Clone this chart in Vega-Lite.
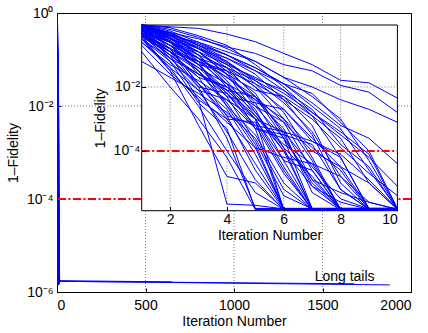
{
"$schema": "https://vega.github.io/schema/vega-lite/v6.json",
"autosize": "none",
"width": 354,
"height": 279,
"padding": {"left": 57, "top": 13, "right": 17, "bottom": 41},
"config": {
  "view": {"stroke": "#000", "strokeWidth": 1},
  "axis": {"labelFont": "Liberation Sans", "titleFont": "Liberation Sans", "labelFontSize": 14, "titleFontSize": 14, "titleFontWeight": "normal", "labelColor": "#000", "titleColor": "#000", "tickColor": "#000", "domain": false, "grid": false, "tickSize": -4, "labelOverlap": false},
  "text": {"font": "Liberation Sans"}
},
"datasets": {
"runs": [
{"r":"A1","i":1,"f":0.5},{"r":"A1","i":2,"f":0.1},{"r":"A1","i":3,"f":4e-3},{"r":"A1","i":4,"f":2.2e-6},{"r":"A1","i":5,"f":2e-6},{"r":"A1","i":6,"f":1.55e-6},{"r":"A1","i":7,"f":1.55e-6},{"r":"A1","i":8,"f":1.55e-6},{"r":"A1","i":9,"f":1.55e-6},{"r":"A1","i":10,"f":1.55e-6},
{"r":"A2","i":1,"f":0.4},{"r":"A2","i":2,"f":0.032},{"r":"A2","i":3,"f":6.3e-4},{"r":"A2","i":4,"f":1.6e-5},{"r":"A2","i":5,"f":1e-5},{"r":"A2","i":6,"f":1.5e-6},{"r":"A2","i":7,"f":1.5e-6},{"r":"A2","i":8,"f":1.5e-6},{"r":"A2","i":9,"f":1.5e-6},{"r":"A2","i":10,"f":1.5e-6},
{"r":"A3","i":1,"f":0.63},{"r":"A3","i":2,"f":0.126},{"r":"A3","i":3,"f":0.01},{"r":"A3","i":4,"f":2.5e-4},{"r":"A3","i":5,"f":1.6e-6},{"r":"A3","i":6,"f":1.6e-6},{"r":"A3","i":7,"f":1.6e-6},{"r":"A3","i":8,"f":1.6e-6},{"r":"A3","i":9,"f":1.6e-6},{"r":"A3","i":10,"f":1.6e-6},
{"r":"A4","i":1,"f":0.126},{"r":"A4","i":2,"f":0.01},{"r":"A4","i":3,"f":1e-3},{"r":"A4","i":4,"f":6.3e-5},{"r":"A4","i":5,"f":1.45e-6},{"r":"A4","i":6,"f":1.45e-6},{"r":"A4","i":7,"f":1.45e-6},{"r":"A4","i":8,"f":1.45e-6},{"r":"A4","i":9,"f":1.45e-6},{"r":"A4","i":10,"f":1.45e-6},
{"r":"A5","i":1,"f":0.5},{"r":"A5","i":2,"f":0.063},{"r":"A5","i":3,"f":3.2e-3},{"r":"A5","i":4,"f":5e-4},{"r":"A5","i":5,"f":1.5e-6},{"r":"A5","i":6,"f":1.5e-6},{"r":"A5","i":7,"f":1.5e-6},{"r":"A5","i":8,"f":1.5e-6},{"r":"A5","i":9,"f":1.5e-6},{"r":"A5","i":10,"f":1.5e-6},
{"r":"A6","i":1,"f":0.79},{"r":"A6","i":2,"f":0.158},{"r":"A6","i":3,"f":0.0126},{"r":"A6","i":4,"f":1e-3},{"r":"A6","i":5,"f":4e-5},{"r":"A6","i":6,"f":1.6e-6},{"r":"A6","i":7,"f":1.6e-6},{"r":"A6","i":8,"f":1.6e-6},{"r":"A6","i":9,"f":1.6e-6},{"r":"A6","i":10,"f":1.6e-6},
{"r":"A7","i":1,"f":0.32},{"r":"A7","i":2,"f":0.04},{"r":"A7","i":3,"f":2.5e-3},{"r":"A7","i":4,"f":1e-4},{"r":"A7","i":5,"f":5e-6},{"r":"A7","i":6,"f":1.5e-6},{"r":"A7","i":7,"f":1.5e-6},{"r":"A7","i":8,"f":1.5e-6},{"r":"A7","i":9,"f":1.5e-6},{"r":"A7","i":10,"f":1.5e-6},
{"r":"B1","i":1,"f":0.63},{"r":"B1","i":2,"f":0.2},{"r":"B1","i":3,"f":0.032},{"r":"B1","i":4,"f":3.2e-3},{"r":"B1","i":5,"f":1.6e-4},{"r":"B1","i":6,"f":1.55e-6},{"r":"B1","i":7,"f":1.55e-6},{"r":"B1","i":8,"f":1.55e-6},{"r":"B1","i":9,"f":1.55e-6},{"r":"B1","i":10,"f":1.55e-6},
{"r":"B2","i":1,"f":0.79},{"r":"B2","i":2,"f":0.25},{"r":"B2","i":3,"f":0.05},{"r":"B2","i":4,"f":6.3e-3},{"r":"B2","i":5,"f":5e-4},{"r":"B2","i":6,"f":1.45e-6},{"r":"B2","i":7,"f":1.45e-6},{"r":"B2","i":8,"f":1.45e-6},{"r":"B2","i":9,"f":1.45e-6},{"r":"B2","i":10,"f":1.45e-6},
{"r":"B3","i":1,"f":0.4},{"r":"B3","i":2,"f":0.079},{"r":"B3","i":3,"f":0.0126},{"r":"B3","i":4,"f":2e-3},{"r":"B3","i":5,"f":7.9e-5},{"r":"B3","i":6,"f":1.6e-6},{"r":"B3","i":7,"f":1.6e-6},{"r":"B3","i":8,"f":1.6e-6},{"r":"B3","i":9,"f":1.6e-6},{"r":"B3","i":10,"f":1.6e-6},
{"r":"B4","i":1,"f":0.5},{"r":"B4","i":2,"f":0.126},{"r":"B4","i":3,"f":0.02},{"r":"B4","i":4,"f":1.26e-3},{"r":"B4","i":5,"f":2.5e-5},{"r":"B4","i":6,"f":1.5e-6},{"r":"B4","i":7,"f":1.5e-6},{"r":"B4","i":8,"f":1.5e-6},{"r":"B4","i":9,"f":1.5e-6},{"r":"B4","i":10,"f":1.5e-6},
{"r":"B5","i":1,"f":0.2},{"r":"B5","i":2,"f":0.025},{"r":"B5","i":3,"f":5e-3},{"r":"B5","i":4,"f":7.9e-4},{"r":"B5","i":5,"f":1.26e-4},{"r":"B5","i":6,"f":1.55e-6},{"r":"B5","i":7,"f":1.55e-6},{"r":"B5","i":8,"f":1.55e-6},{"r":"B5","i":9,"f":1.55e-6},{"r":"B5","i":10,"f":1.55e-6},
{"r":"B6","i":1,"f":0.71},{"r":"B6","i":2,"f":0.32},{"r":"B6","i":3,"f":0.079},{"r":"B6","i":4,"f":0.01},{"r":"B6","i":5,"f":1e-3},{"r":"B6","i":6,"f":1.5e-6},{"r":"B6","i":7,"f":1.5e-6},{"r":"B6","i":8,"f":1.5e-6},{"r":"B6","i":9,"f":1.5e-6},{"r":"B6","i":10,"f":1.5e-6},
{"r":"B7","i":1,"f":0.32},{"r":"B7","i":2,"f":0.063},{"r":"B7","i":3,"f":7.9e-3},{"r":"B7","i":4,"f":4e-4},{"r":"B7","i":5,"f":1.26e-5},{"r":"B7","i":6,"f":1.45e-6},{"r":"B7","i":7,"f":1.45e-6},{"r":"B7","i":8,"f":1.45e-6},{"r":"B7","i":9,"f":1.45e-6},{"r":"B7","i":10,"f":1.45e-6},
{"r":"C1","i":1,"f":0.89},{"r":"C1","i":2,"f":0.4},{"r":"C1","i":3,"f":0.126},{"r":"C1","i":4,"f":0.025},{"r":"C1","i":5,"f":3.2e-3},{"r":"C1","i":6,"f":1.26e-4},{"r":"C1","i":7,"f":1.5e-6},{"r":"C1","i":8,"f":1.5e-6},{"r":"C1","i":9,"f":1.5e-6},{"r":"C1","i":10,"f":1.5e-6},
{"r":"C2","i":1,"f":0.63},{"r":"C2","i":2,"f":0.25},{"r":"C2","i":3,"f":0.063},{"r":"C2","i":4,"f":0.0126},{"r":"C2","i":5,"f":2e-3},{"r":"C2","i":6,"f":5e-5},{"r":"C2","i":7,"f":1.6e-6},{"r":"C2","i":8,"f":1.6e-6},{"r":"C2","i":9,"f":1.6e-6},{"r":"C2","i":10,"f":1.6e-6},
{"r":"C3","i":1,"f":0.5},{"r":"C3","i":2,"f":0.158},{"r":"C3","i":3,"f":0.04},{"r":"C3","i":4,"f":6.3e-3},{"r":"C3","i":5,"f":6.3e-4},{"r":"C3","i":6,"f":2e-5},{"r":"C3","i":7,"f":1.5e-6},{"r":"C3","i":8,"f":1.5e-6},{"r":"C3","i":9,"f":1.5e-6},{"r":"C3","i":10,"f":1.5e-6},
{"r":"C4","i":1,"f":0.79},{"r":"C4","i":2,"f":0.32},{"r":"C4","i":3,"f":0.1},{"r":"C4","i":4,"f":0.0158},{"r":"C4","i":5,"f":1.26e-3},{"r":"C4","i":6,"f":1e-4},{"r":"C4","i":7,"f":1.55e-6},{"r":"C4","i":8,"f":1.55e-6},{"r":"C4","i":9,"f":1.55e-6},{"r":"C4","i":10,"f":1.55e-6},
{"r":"C5","i":1,"f":0.25},{"r":"C5","i":2,"f":0.05},{"r":"C5","i":3,"f":0.0158},{"r":"C5","i":4,"f":4e-3},{"r":"C5","i":5,"f":1e-3},{"r":"C5","i":6,"f":3.2e-5},{"r":"C5","i":7,"f":1.45e-6},{"r":"C5","i":8,"f":1.45e-6},{"r":"C5","i":9,"f":1.45e-6},{"r":"C5","i":10,"f":1.45e-6},
{"r":"C6","i":1,"f":0.56},{"r":"C6","i":2,"f":0.2},{"r":"C6","i":3,"f":0.032},{"r":"C6","i":4,"f":2.5e-3},{"r":"C6","i":5,"f":3.2e-4},{"r":"C6","i":6,"f":1e-5},{"r":"C6","i":7,"f":1.5e-6},{"r":"C6","i":8,"f":1.5e-6},{"r":"C6","i":9,"f":1.5e-6},{"r":"C6","i":10,"f":1.5e-6},
{"r":"C7","i":1,"f":0.4},{"r":"C7","i":2,"f":0.1},{"r":"C7","i":3,"f":0.025},{"r":"C7","i":4,"f":0.01},{"r":"C7","i":5,"f":2.5e-3},{"r":"C7","i":6,"f":2.5e-4},{"r":"C7","i":7,"f":1.6e-6},{"r":"C7","i":8,"f":1.6e-6},{"r":"C7","i":9,"f":1.6e-6},{"r":"C7","i":10,"f":1.6e-6},
{"r":"C8","i":1,"f":0.063},{"r":"C8","i":2,"f":0.02},{"r":"C8","i":3,"f":6.3e-3},{"r":"C8","i":4,"f":1.6e-3},{"r":"C8","i":5,"f":2.5e-4},{"r":"C8","i":6,"f":6.3e-6},{"r":"C8","i":7,"f":1.5e-6},{"r":"C8","i":8,"f":1.5e-6},{"r":"C8","i":9,"f":1.5e-6},{"r":"C8","i":10,"f":1.5e-6},
{"r":"C9","i":1,"f":0.71},{"r":"C9","i":2,"f":0.28},{"r":"C9","i":3,"f":0.05},{"r":"C9","i":4,"f":5e-3},{"r":"C9","i":5,"f":2e-4},{"r":"C9","i":6,"f":4e-6},{"r":"C9","i":7,"f":1.55e-6},{"r":"C9","i":8,"f":1.55e-6},{"r":"C9","i":9,"f":1.55e-6},{"r":"C9","i":10,"f":1.55e-6},
{"r":"D1","i":1,"f":0.89},{"r":"D1","i":2,"f":0.5},{"r":"D1","i":3,"f":0.2},{"r":"D1","i":4,"f":0.063},{"r":"D1","i":5,"f":0.0126},{"r":"D1","i":6,"f":1.6e-3},{"r":"D1","i":7,"f":6.3e-5},{"r":"D1","i":8,"f":1.5e-6},{"r":"D1","i":9,"f":1.5e-6},{"r":"D1","i":10,"f":1.5e-6},
{"r":"D2","i":1,"f":0.63},{"r":"D2","i":2,"f":0.25},{"r":"D2","i":3,"f":0.079},{"r":"D2","i":4,"f":0.02},{"r":"D2","i":5,"f":5e-3},{"r":"D2","i":6,"f":7.9e-4},{"r":"D2","i":7,"f":2.5e-5},{"r":"D2","i":8,"f":1.45e-6},{"r":"D2","i":9,"f":1.45e-6},{"r":"D2","i":10,"f":1.45e-6},
{"r":"D3","i":1,"f":0.5},{"r":"D3","i":2,"f":0.126},{"r":"D3","i":3,"f":0.04},{"r":"D3","i":4,"f":0.0126},{"r":"D3","i":5,"f":4e-3},{"r":"D3","i":6,"f":5e-4},{"r":"D3","i":7,"f":1.26e-5},{"r":"D3","i":8,"f":1.6e-6},{"r":"D3","i":9,"f":1.6e-6},{"r":"D3","i":10,"f":1.6e-6},
{"r":"D4","i":1,"f":0.79},{"r":"D4","i":2,"f":0.355},{"r":"D4","i":3,"f":0.126},{"r":"D4","i":4,"f":0.032},{"r":"D4","i":5,"f":6.3e-3},{"r":"D4","i":6,"f":3.2e-4},{"r":"D4","i":7,"f":7.9e-6},{"r":"D4","i":8,"f":1.5e-6},{"r":"D4","i":9,"f":1.5e-6},{"r":"D4","i":10,"f":1.5e-6},
{"r":"D5","i":1,"f":0.32},{"r":"D5","i":2,"f":0.079},{"r":"D5","i":3,"f":0.025},{"r":"D5","i":4,"f":7.9e-3},{"r":"D5","i":5,"f":1.26e-3},{"r":"D5","i":6,"f":1.6e-4},{"r":"D5","i":7,"f":4e-5},{"r":"D5","i":8,"f":1.55e-6},{"r":"D5","i":9,"f":1.55e-6},{"r":"D5","i":10,"f":1.55e-6},
{"r":"D6","i":1,"f":0.71},{"r":"D6","i":2,"f":0.4},{"r":"D6","i":3,"f":0.158},{"r":"D6","i":4,"f":0.05},{"r":"D6","i":5,"f":0.01},{"r":"D6","i":6,"f":1e-3},{"r":"D6","i":7,"f":5e-5},{"r":"D6","i":8,"f":1.5e-6},{"r":"D6","i":9,"f":1.5e-6},{"r":"D6","i":10,"f":1.5e-6},
{"r":"D7","i":1,"f":0.45},{"r":"D7","i":2,"f":0.158},{"r":"D7","i":3,"f":0.05},{"r":"D7","i":4,"f":7.9e-3},{"r":"D7","i":5,"f":1e-3},{"r":"D7","i":6,"f":4e-4},{"r":"D7","i":7,"f":5e-6},{"r":"D7","i":8,"f":1.45e-6},{"r":"D7","i":9,"f":1.45e-6},{"r":"D7","i":10,"f":1.45e-6},
{"r":"E1","i":1,"f":0.89},{"r":"E1","i":2,"f":0.56},{"r":"E1","i":3,"f":0.25},{"r":"E1","i":4,"f":0.1},{"r":"E1","i":5,"f":0.032},{"r":"E1","i":6,"f":7.9e-3},{"r":"E1","i":7,"f":1.26e-3},{"r":"E1","i":8,"f":6.3e-5},{"r":"E1","i":9,"f":1.5e-6},{"r":"E1","i":10,"f":1.5e-6},
{"r":"E2","i":1,"f":0.79},{"r":"E2","i":2,"f":0.4},{"r":"E2","i":3,"f":0.158},{"r":"E2","i":4,"f":0.063},{"r":"E2","i":5,"f":0.0158},{"r":"E2","i":6,"f":3.2e-3},{"r":"E2","i":7,"f":4e-4},{"r":"E2","i":8,"f":1.6e-5},{"r":"E2","i":9,"f":1.55e-6},{"r":"E2","i":10,"f":1.55e-6},
{"r":"E3","i":1,"f":0.5},{"r":"E3","i":2,"f":0.2},{"r":"E3","i":3,"f":0.079},{"r":"E3","i":4,"f":0.04},{"r":"E3","i":5,"f":0.01},{"r":"E3","i":6,"f":2e-3},{"r":"E3","i":7,"f":2.5e-4},{"r":"E3","i":8,"f":3.2e-5},{"r":"E3","i":9,"f":1.6e-6},{"r":"E3","i":10,"f":1.6e-6},
{"r":"E4","i":1,"f":0.63},{"r":"E4","i":2,"f":0.32},{"r":"E4","i":3,"f":0.126},{"r":"E4","i":4,"f":0.025},{"r":"E4","i":5,"f":7.9e-3},{"r":"E4","i":6,"f":5e-3},{"r":"E4","i":7,"f":6.3e-4},{"r":"E4","i":8,"f":1e-5},{"r":"E4","i":9,"f":1.5e-6},{"r":"E4","i":10,"f":1.5e-6},
{"r":"E5","i":1,"f":0.355},{"r":"E5","i":2,"f":0.126},{"r":"E5","i":3,"f":0.063},{"r":"E5","i":4,"f":0.02},{"r":"E5","i":5,"f":4e-3},{"r":"E5","i":6,"f":1e-3},{"r":"E5","i":7,"f":1.26e-4},{"r":"E5","i":8,"f":2.5e-5},{"r":"E5","i":9,"f":1.45e-6},{"r":"E5","i":10,"f":1.45e-6},
{"r":"E6","i":1,"f":0.83},{"r":"E6","i":2,"f":0.5},{"r":"E6","i":3,"f":0.2},{"r":"E6","i":4,"f":0.079},{"r":"E6","i":5,"f":0.025},{"r":"E6","i":6,"f":4e-3},{"r":"E6","i":7,"f":3.2e-4},{"r":"E6","i":8,"f":6.3e-6},{"r":"E6","i":9,"f":1.5e-6},{"r":"E6","i":10,"f":1.5e-6},
{"r":"F1","i":1,"f":0.89},{"r":"F1","i":2,"f":0.63},{"r":"F1","i":3,"f":0.355},{"r":"F1","i":4,"f":0.158},{"r":"F1","i":5,"f":0.063},{"r":"F1","i":6,"f":0.02},{"r":"F1","i":7,"f":5e-3},{"r":"F1","i":8,"f":1e-3},{"r":"F1","i":9,"f":5e-5},{"r":"F1","i":10,"f":1.5e-6},
{"r":"F2","i":1,"f":0.79},{"r":"F2","i":2,"f":0.45},{"r":"F2","i":3,"f":0.224},{"r":"F2","i":4,"f":0.1},{"r":"F2","i":5,"f":0.04},{"r":"F2","i":6,"f":0.0126},{"r":"F2","i":7,"f":2.5e-3},{"r":"F2","i":8,"f":5e-4},{"r":"F2","i":9,"f":2.5e-5},{"r":"F2","i":10,"f":1.55e-6},
{"r":"F3","i":1,"f":0.63},{"r":"F3","i":2,"f":0.32},{"r":"F3","i":3,"f":0.158},{"r":"F3","i":4,"f":0.079},{"r":"F3","i":5,"f":0.032},{"r":"F3","i":6,"f":0.0126},{"r":"F3","i":7,"f":6.3e-3},{"r":"F3","i":8,"f":7.9e-4},{"r":"F3","i":9,"f":1e-4},{"r":"F3","i":10,"f":1.6e-6},
{"r":"F4","i":1,"f":0.5},{"r":"F4","i":2,"f":0.25},{"r":"F4","i":3,"f":0.1},{"r":"F4","i":4,"f":0.04},{"r":"F4","i":5,"f":0.0158},{"r":"F4","i":6,"f":5e-3},{"r":"F4","i":7,"f":1.26e-3},{"r":"F4","i":8,"f":2.5e-4},{"r":"F4","i":9,"f":1e-5},{"r":"F4","i":10,"f":1.5e-6},
{"r":"F5","i":1,"f":0.71},{"r":"F5","i":2,"f":0.4},{"r":"F5","i":3,"f":0.178},{"r":"F5","i":4,"f":0.056},{"r":"F5","i":5,"f":0.0178},{"r":"F5","i":6,"f":7.9e-3},{"r":"F5","i":7,"f":2e-3},{"r":"F5","i":8,"f":1.6e-4},{"r":"F5","i":9,"f":3.2e-5},{"r":"F5","i":10,"f":1.45e-6},
{"r":"F6","i":1,"f":0.87},{"r":"F6","i":2,"f":0.71},{"r":"F6","i":3,"f":0.4},{"r":"F6","i":4,"f":0.2},{"r":"F6","i":5,"f":0.05},{"r":"F6","i":6,"f":0.01},{"r":"F6","i":7,"f":1.6e-3},{"r":"F6","i":8,"f":4e-4},{"r":"F6","i":9,"f":7.9e-5},{"r":"F6","i":10,"f":1.5e-6},
{"r":"G1","i":1,"f":0.87},{"r":"G1","i":2,"f":0.76},{"r":"G1","i":3,"f":0.68},{"r":"G1","i":4,"f":0.45},{"r":"G1","i":5,"f":0.26},{"r":"G1","i":6,"f":0.112},{"r":"G1","i":7,"f":0.05},{"r":"G1","i":8,"f":0.0162},{"r":"G1","i":9,"f":0.0135},{"r":"G1","i":10,"f":4.5e-3},{"r":"G1","i":11,"f":1e-3},{"r":"G1","i":12,"f":1.26e-4},{"r":"G1","i":13,"f":1.6e-5},{"r":"G1","i":14,"f":3.2e-6},{"r":"G1","i":15,"f":1.75e-6},{"r":"G1","i":650,"f":1.65e-6},
{"r":"G2","i":1,"f":0.79},{"r":"G2","i":2,"f":0.5},{"r":"G2","i":3,"f":0.32},{"r":"G2","i":4,"f":0.178},{"r":"G2","i":5,"f":0.112},{"r":"G2","i":6,"f":0.05},{"r":"G2","i":7,"f":0.032},{"r":"G2","i":8,"f":0.0112},{"r":"G2","i":9,"f":6.9e-3},{"r":"G2","i":10,"f":1.6e-3},{"r":"G2","i":11,"f":2.5e-4},{"r":"G2","i":12,"f":3.2e-5},{"r":"G2","i":13,"f":5e-6},{"r":"G2","i":14,"f":1.7e-6},{"r":"G2","i":1680,"f":1.5e-6},
{"r":"G3","i":1,"f":0.63},{"r":"G3","i":2,"f":0.4},{"r":"G3","i":3,"f":0.25},{"r":"G3","i":4,"f":0.126},{"r":"G3","i":5,"f":0.063},{"r":"G3","i":6,"f":0.02},{"r":"G3","i":7,"f":0.01},{"r":"G3","i":8,"f":4e-3},{"r":"G3","i":9,"f":2e-3},{"r":"G3","i":10,"f":7.9e-4},{"r":"G3","i":11,"f":1.26e-4},{"r":"G3","i":12,"f":2e-5},{"r":"G3","i":13,"f":4e-6},{"r":"G3","i":14,"f":1.7e-6},{"r":"G3","i":1880,"f":1.42e-6},
{"r":"G4","i":1,"f":0.76},{"r":"G4","i":2,"f":0.45},{"r":"G4","i":3,"f":0.2},{"r":"G4","i":4,"f":0.1},{"r":"G4","i":5,"f":0.04},{"r":"G4","i":6,"f":0.0126},{"r":"G4","i":7,"f":3.2e-3},{"r":"G4","i":8,"f":6.3e-4},{"r":"G4","i":9,"f":2.5e-4},{"r":"G4","i":10,"f":4e-5},{"r":"G4","i":11,"f":6.3e-6},{"r":"G4","i":12,"f":1.5e-6},
{"r":"G5","i":1,"f":0.56},{"r":"G5","i":2,"f":0.25},{"r":"G5","i":3,"f":0.126},{"r":"G5","i":4,"f":0.05},{"r":"G5","i":5,"f":0.02},{"r":"G5","i":6,"f":6.3e-3},{"r":"G5","i":7,"f":1.6e-3},{"r":"G5","i":8,"f":3.2e-4},{"r":"G5","i":9,"f":6.3e-5},{"r":"G5","i":10,"f":7.9e-6},{"r":"G5","i":11,"f":1.55e-6},
{"r":"G6","i":1,"f":0.4},{"r":"G6","i":2,"f":0.158},{"r":"G6","i":3,"f":0.063},{"r":"G6","i":4,"f":0.032},{"r":"G6","i":5,"f":0.0126},{"r":"G6","i":6,"f":4e-3},{"r":"G6","i":7,"f":1e-3},{"r":"G6","i":8,"f":1.26e-4},{"r":"G6","i":9,"f":2e-5},{"r":"G6","i":10,"f":4e-6},{"r":"G6","i":11,"f":1.5e-6},
{"r":"H1","i":1,"f":0.79},{"r":"H1","i":2,"f":0.25},{"r":"H1","i":3,"f":0.025},{"r":"H1","i":4,"f":7.9e-3},{"r":"H1","i":5,"f":5e-3},{"r":"H1","i":6,"f":2.5e-4},{"r":"H1","i":7,"f":1e-5},{"r":"H1","i":8,"f":1.5e-6},{"r":"H1","i":9,"f":1.5e-6},{"r":"H1","i":10,"f":1.5e-6},
{"r":"H2","i":1,"f":0.5},{"r":"H2","i":2,"f":0.158},{"r":"H2","i":3,"f":0.0126},{"r":"H2","i":4,"f":1.26e-3},{"r":"H2","i":5,"f":6.3e-4},{"r":"H2","i":6,"f":4e-4},{"r":"H2","i":7,"f":3.2e-5},{"r":"H2","i":8,"f":3.2e-6},{"r":"H2","i":9,"f":1.55e-6},{"r":"H2","i":10,"f":1.55e-6},
{"r":"H3","i":1,"f":0.63},{"r":"H3","i":2,"f":0.079},{"r":"H3","i":3,"f":0.01},{"r":"H3","i":4,"f":6.3e-3},{"r":"H3","i":5,"f":1e-3},{"r":"H3","i":6,"f":5e-5},{"r":"H3","i":7,"f":2.5e-5},{"r":"H3","i":8,"f":1.5e-6},{"r":"H3","i":9,"f":1.5e-6},{"r":"H3","i":10,"f":1.5e-6},
{"r":"H4","i":1,"f":0.89},{"r":"H4","i":2,"f":0.45},{"r":"H4","i":3,"f":0.1},{"r":"H4","i":4,"f":0.0126},{"r":"H4","i":5,"f":5e-4},{"r":"H4","i":6,"f":3.2e-4},{"r":"H4","i":7,"f":1.6e-4},{"r":"H4","i":8,"f":6.3e-6},{"r":"H4","i":9,"f":1.5e-6},{"r":"H4","i":10,"f":1.5e-6},
{"r":"H5","i":1,"f":0.32},{"r":"H5","i":2,"f":0.032},{"r":"H5","i":3,"f":4e-3},{"r":"H5","i":4,"f":1e-3},{"r":"H5","i":5,"f":7.9e-4},{"r":"H5","i":6,"f":2.5e-5},{"r":"H5","i":7,"f":1.45e-6},{"r":"H5","i":8,"f":1.45e-6},{"r":"H5","i":9,"f":1.45e-6},{"r":"H5","i":10,"f":1.45e-6},
{"r":"H6","i":1,"f":0.71},{"r":"H6","i":2,"f":0.355},{"r":"H6","i":3,"f":0.063},{"r":"H6","i":4,"f":2.5e-3},{"r":"H6","i":5,"f":1.26e-4},{"r":"H6","i":6,"f":6.3e-5},{"r":"H6","i":7,"f":4e-5},{"r":"H6","i":8,"f":1.6e-5},{"r":"H6","i":9,"f":2.5e-6},{"r":"H6","i":10,"f":1.5e-6},
{"r":"H7","i":1,"f":0.4},{"r":"H7","i":2,"f":0.126},{"r":"H7","i":3,"f":0.032},{"r":"H7","i":4,"f":5e-3},{"r":"H7","i":5,"f":3.2e-3},{"r":"H7","i":6,"f":2e-3},{"r":"H7","i":7,"f":2e-4},{"r":"H7","i":8,"f":7.9e-5},{"r":"H7","i":9,"f":1.26e-5},{"r":"H7","i":10,"f":1.55e-6},
{"r":"H8","i":1,"f":0.56},{"r":"H8","i":2,"f":0.28},{"r":"H8","i":3,"f":0.079},{"r":"H8","i":4,"f":0.025},{"r":"H8","i":5,"f":1.6e-3},{"r":"H8","i":6,"f":1e-4},{"r":"H8","i":7,"f":7.9e-6},{"r":"H8","i":8,"f":2.5e-6},{"r":"H8","i":9,"f":1.5e-6},{"r":"H8","i":10,"f":1.5e-6},
{"r":"H9","i":1,"f":0.25},{"r":"H9","i":2,"f":0.04},{"r":"H9","i":3,"f":7.9e-3},{"r":"H9","i":4,"f":4e-3},{"r":"H9","i":5,"f":5e-4},{"r":"H9","i":6,"f":2.5e-4},{"r":"H9","i":7,"f":1.26e-5},{"r":"H9","i":8,"f":5e-6},{"r":"H9","i":9,"f":2.5e-6},{"r":"H9","i":10,"f":1.5e-6},
{"r":"H10","i":1,"f":0.79},{"r":"H10","i":2,"f":0.5},{"r":"H10","i":3,"f":0.158},{"r":"H10","i":4,"f":0.04},{"r":"H10","i":5,"f":5e-3},{"r":"H10","i":6,"f":4e-4},{"r":"H10","i":7,"f":2e-4},{"r":"H10","i":8,"f":6.3e-5},{"r":"H10","i":9,"f":1.6e-6},{"r":"H10","i":10,"f":1.6e-6},
{"r":"H11","i":1,"f":0.45},{"r":"H11","i":2,"f":0.1},{"r":"H11","i":3,"f":0.02},{"r":"H11","i":4,"f":0.01},{"r":"H11","i":5,"f":1.6e-3},{"r":"H11","i":6,"f":1.26e-4},{"r":"H11","i":7,"f":1.6e-5},{"r":"H11","i":8,"f":1.45e-6},{"r":"H11","i":9,"f":1.45e-6},{"r":"H11","i":10,"f":1.45e-6},
{"r":"H12","i":1,"f":0.63},{"r":"H12","i":2,"f":0.2},{"r":"H12","i":3,"f":0.05},{"r":"H12","i":4,"f":0.032},{"r":"H12","i":5,"f":2.5e-3},{"r":"H12","i":6,"f":7.9e-4},{"r":"H12","i":7,"f":1e-4},{"r":"H12","i":8,"f":3.2e-5},{"r":"H12","i":9,"f":1e-5},{"r":"H12","i":10,"f":1.5e-6}
]
},
"layer": [
  {
    "layer": [
      {
        "data": {"values": [{"g": 500}, {"g": 1000}, {"g": 1500}]},
        "mark": {"type": "rule", "color": "#555", "strokeWidth": 0.8, "strokeDash": [1, 2]},
        "encoding": {
          "x": {"field": "g", "type": "quantitative", "scale": {"domain": [0, 2000], "nice": false, "zero": false},
                "axis": {"values": [0, 500, 1000, 1500, 2000], "format": "d", "title": "Iteration Number", "labelPadding": 10, "titlePadding": 2}}
        }
      },
      {
        "data": {"values": [{"g": 0.01}]},
        "mark": {"type": "rule", "color": "#555", "strokeWidth": 0.8, "strokeDash": [1, 2]},
        "encoding": {
          "y": {"field": "g", "type": "quantitative", "scale": {"type": "log", "domain": [1e-6, 1], "nice": false},
                "axis": {"values": [1, 0.01, 0.0001, 0.000001], "title": "1–Fidelity", "labelPadding": 8, "titlePadding": 6,
                         "labelExpr": "datum.value > 0.5 ? '10⁰' : datum.value > 0.005 ? '10⁻²' : datum.value > 0.00005 ? '10⁻⁴' : '10⁻⁶'"}}
        }
      },
      {
        "data": {"name": "runs"},
        "mark": {"type": "line", "color": "#0000ff", "strokeWidth": 1, "clip": true},
        "encoding": {
          "x": {"field": "i", "type": "quantitative", "scale": {"domain": [0, 2000], "nice": false, "zero": false}},
          "y": {"field": "f", "type": "quantitative", "scale": {"type": "log", "domain": [1e-6, 1], "nice": false}},
          "detail": {"field": "r"},
          "order": {"field": "i"}
        }
      },
      {
        "data": {"values": [{"t": 0.0001}]},
        "mark": {"type": "rule", "color": "#ff0000", "strokeWidth": 2, "strokeDash": [8, 2.5, 2, 2.5]},
        "encoding": {
          "y": {"field": "t", "type": "quantitative", "scale": {"type": "log", "domain": [1e-6, 1], "nice": false}}
        }
      },
      {
        "data": {"values": [{"x": 1625, "y": 1.73e-6, "label": "Long tails"}]},
        "mark": {"type": "text", "fontSize": 14, "align": "center", "baseline": "alphabetic", "color": "#000", "font": "Liberation Sans"},
        "encoding": {
          "x": {"field": "x", "type": "quantitative", "scale": {"domain": [0, 2000], "nice": false, "zero": false}},
          "y": {"field": "y", "type": "quantitative", "scale": {"type": "log", "domain": [1e-6, 1], "nice": false}},
          "text": {"field": "label"}
        }
      }
    ]
  },
  {
    "layer": [
      {
        "data": {"values": [{"a": 1, "b": 10, "lo": 1.36e-6, "hi": 0.866}]},
        "mark": {"type": "rect", "fill": "#ffffff", "stroke": "#000", "strokeWidth": 1},
        "encoding": {
          "x": {"field": "a", "type": "quantitative", "scale": {"domain": [1, 10], "range": [84.7, 340.4], "nice": false, "zero": false},
                "axis": {"orient": "bottom", "offset": -81.3, "values": [2, 4, 6, 8, 10], "title": "Iteration Number", "zindex": 1, "labelPadding": 6, "titlePadding": 2}},
          "x2": {"field": "b"},
          "y": {"field": "lo", "type": "quantitative", "scale": {"type": "log", "domain": [1.36e-6, 0.866], "range": [197.7, 12], "nice": false},
                "axis": {"orient": "left", "offset": -84.7, "values": [0.01, 0.0001], "title": "1–Fidelity", "zindex": 1, "labelPadding": 6, "titlePadding": 6,
                         "labelExpr": "datum.value > 0.5 ? '10⁰' : datum.value > 0.005 ? '10⁻²' : datum.value > 0.00005 ? '10⁻⁴' : '10⁻⁶'"}},
          "y2": {"field": "hi"}
        }
      },
      {
        "data": {"values": [{"g": 2, "lo": 1.36e-6, "hi": 0.866}, {"g": 4, "lo": 1.36e-6, "hi": 0.866}, {"g": 6, "lo": 1.36e-6, "hi": 0.866}, {"g": 8, "lo": 1.36e-6, "hi": 0.866}]},
        "mark": {"type": "rule", "color": "#555", "strokeWidth": 0.8, "strokeDash": [1, 2]},
        "encoding": {
          "x": {"field": "g", "type": "quantitative", "scale": {"domain": [1, 10], "range": [84.7, 340.4], "nice": false, "zero": false}},
          "y": {"field": "lo", "type": "quantitative", "scale": {"type": "log", "domain": [1.36e-6, 0.866], "range": [197.7, 12], "nice": false}},
          "y2": {"field": "hi"}
        }
      },
      {
        "data": {"values": [{"g": 0.01, "a": 1, "b": 10}]},
        "mark": {"type": "rule", "color": "#555", "strokeWidth": 0.8, "strokeDash": [1, 2]},
        "encoding": {
          "y": {"field": "g", "type": "quantitative", "scale": {"type": "log", "domain": [1.36e-6, 0.866], "range": [197.7, 12], "nice": false}},
          "x": {"field": "a", "type": "quantitative", "scale": {"domain": [1, 10], "range": [84.7, 340.4], "nice": false, "zero": false}},
          "x2": {"field": "b"}
        }
      },
      {
        "data": {"name": "runs"},
        "transform": [{"filter": "datum.i <= 10"}],
        "mark": {"type": "line", "color": "#0000ff", "strokeWidth": 1, "clip": true},
        "encoding": {
          "x": {"field": "i", "type": "quantitative", "scale": {"domain": [1, 10], "range": [84.7, 340.4], "nice": false, "zero": false}},
          "y": {"field": "f", "type": "quantitative", "scale": {"type": "log", "domain": [1.36e-6, 0.866], "range": [197.7, 12], "nice": false}},
          "detail": {"field": "r"},
          "order": {"field": "i"}
        }
      },
      {
        "data": {"values": [{"t": 0.0001, "a": 1, "b": 10}]},
        "mark": {"type": "rule", "color": "#ff0000", "strokeWidth": 2, "strokeDash": [8, 2.5, 2, 2.5]},
        "encoding": {
          "y": {"field": "t", "type": "quantitative", "scale": {"type": "log", "domain": [1.36e-6, 0.866], "range": [197.7, 12], "nice": false}},
          "x": {"field": "a", "type": "quantitative", "scale": {"domain": [1, 10], "range": [84.7, 340.4], "nice": false, "zero": false}},
          "x2": {"field": "b"}
        }
      }
    ]
  }
],
"resolve": {"scale": {"x": "independent", "y": "independent"}, "axis": {"x": "independent", "y": "independent"}}
}
